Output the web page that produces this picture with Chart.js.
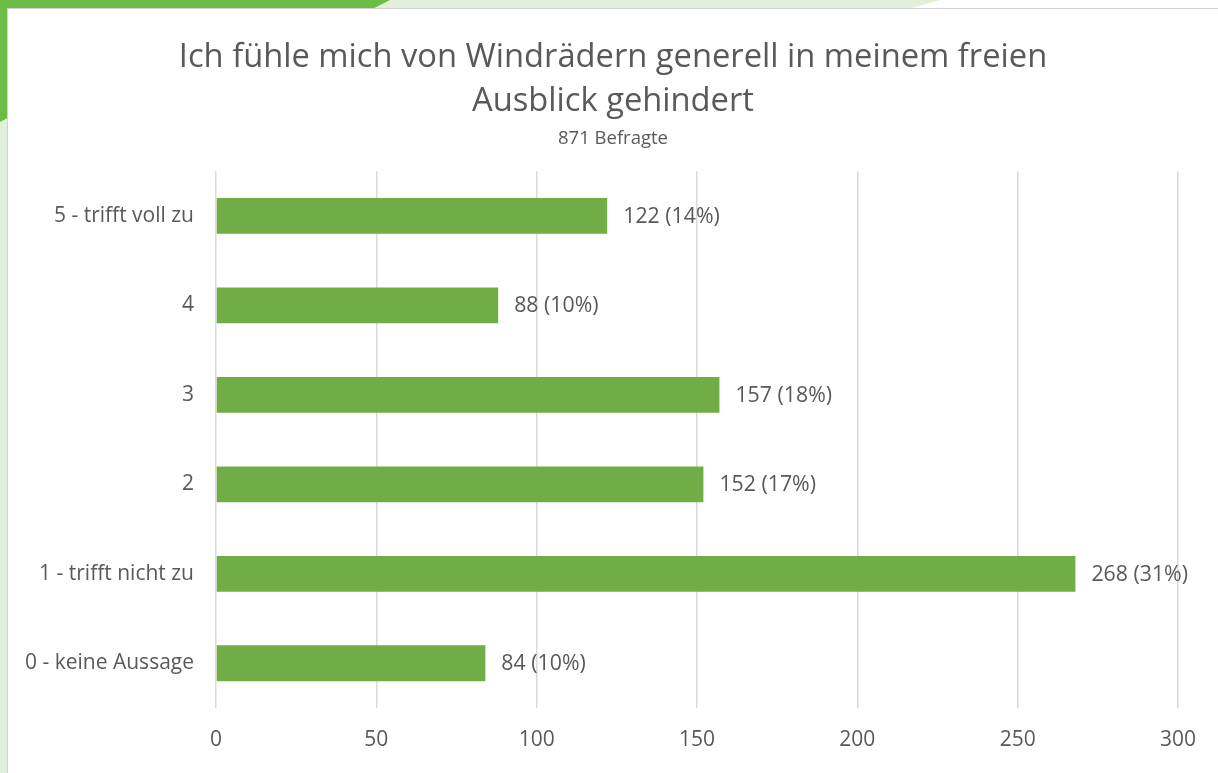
<!DOCTYPE html>
<html>
<head>
<meta charset="utf-8">
<script src="https://cdn.jsdelivr.net/npm/chart.js"></script>
<style>
  html, body { margin: 0; padding: 0; background: #fff; }
  body { width: 1218px; height: 773px; position: relative; overflow: hidden; }
  .band-light { position: absolute; left: 0; top: 0; width: 940px; height: 8px; background: #e2efd9;
    clip-path: polygon(0 0, 100% 0, 97% 100%, 0 100%); }
  .band-dark { position: absolute; left: 0; top: 0; width: 390px; height: 8px; background: #6cbd45;
    clip-path: polygon(0 0, 100% 0, 96% 100%, 0 100%); }
  .side-light { position: absolute; left: 0; top: 0; width: 7px; height: 773px; background: #e2efd9; }
  .side-dark { position: absolute; left: 0; top: 0; width: 7px; height: 122px; background: #6cbd45;
    clip-path: polygon(0 0, 100% 0, 100% 97%, 0 100%); }
  .frame { position: absolute; left: 7px; top: 8px; right: 0; bottom: 0;
    border-left: 1px solid #d4d4d4; border-top: 1px solid #d4d4d4; background: #fff; }
  #wrap { position: absolute; left: 8px; top: 9px; width: 1210px; height: 764px; }
</style>
</head>
<body>
<div class="band-light"></div>
<div class="band-dark"></div>
<div class="side-light"></div>
<div class="side-dark"></div>
<div class="frame"></div>
<div id="wrap"><canvas id="chart"></canvas></div>
<script>
// Daten aus der Umfrage
const kategorien = ['5 - trifft voll zu', '4', '3', '2', '1 - trifft nicht zu', '0 - keine Aussage'];
const anzahl = [122, 88, 157, 152, 268, 84];
const prozent = [14, 10, 18, 17, 31, 10];
const xTicks = [0, 50, 100, 150, 200, 250, 300];

const schrift = '"Open Sans", sans-serif';
const grau = '#595959';

// Beschriftung rechts neben den Balken
const wertLabels = {
    id: 'wertLabels',
    afterLayout(chart) {
        // lange Kategorienamen duerfen ueber den linken Rand der Achse hinaus
        chart.scales.y.left = 0;
    },
    afterDatasetsDraw(chart) {
        const ctx = chart.ctx;
        const meta = chart.getDatasetMeta(0);
        ctx.save();
        ctx.font = '21.3px ' + schrift;
        ctx.fillStyle = grau;
        ctx.textAlign = 'left';
        ctx.textBaseline = 'middle';
        meta.data.forEach((bar, i) => {
            ctx.fillText(anzahl[i] + ' (' + prozent[i] + '%)', bar.x + 16, bar.y + 1);
        });
        ctx.restore();
    }
};

new Chart(document.getElementById('chart'), {
    type: 'bar',
    data: {
        labels: kategorien,
        datasets: [{
            data: anzahl,
            backgroundColor: '#70ad47',
            barPercentage: 0.8,
            categoryPercentage: 0.5
        }]
    },
    options: {
        indexAxis: 'y',
        responsive: true,
        maintainAspectRatio: false,
        animation: false,
        layout: { padding: { left: 40, right: 40, top: 0, bottom: 0 } },
        plugins: {
            legend: { display: false },
            tooltip: { enabled: false },
            title: {
                display: true,
                text: ['Ich fühle mich von Windrädern generell in meinem freien', 'Ausblick gehindert'],
                color: grau,
                font: { family: schrift, size: 32.7, weight: 'normal', lineHeight: 1.345 },
                padding: { top: 27, bottom: 4 }
            },
            subtitle: {
                display: true,
                text: '871 Befragte',
                color: grau,
                font: { family: schrift, size: 18.5, weight: 'normal', lineHeight: 1.2 },
                padding: { top: 0, bottom: 21 }
            }
        },
        scales: {
            x: {
                min: 0,
                max: 300,
                afterBuildTicks: axis => { axis.ticks = xTicks.map(v => ({ value: v })); },
                afterFit: axis => { axis.height = 65; },
                grid: { color: '#d9d9d9', lineWidth: 1.5, drawTicks: false },
                border: { display: false },
                ticks: { color: grau, font: { family: schrift, size: 21 }, padding: 19 }
            },
            y: {
                afterFit: axis => { axis.width = 168; },
                grid: { display: false, drawTicks: false },
                border: { display: false },
                ticks: { color: grau, font: { family: schrift, size: 21 }, padding: 22 }
            }
        }
    },
    plugins: [wertLabels]
});
</script>
</body>
</html>
